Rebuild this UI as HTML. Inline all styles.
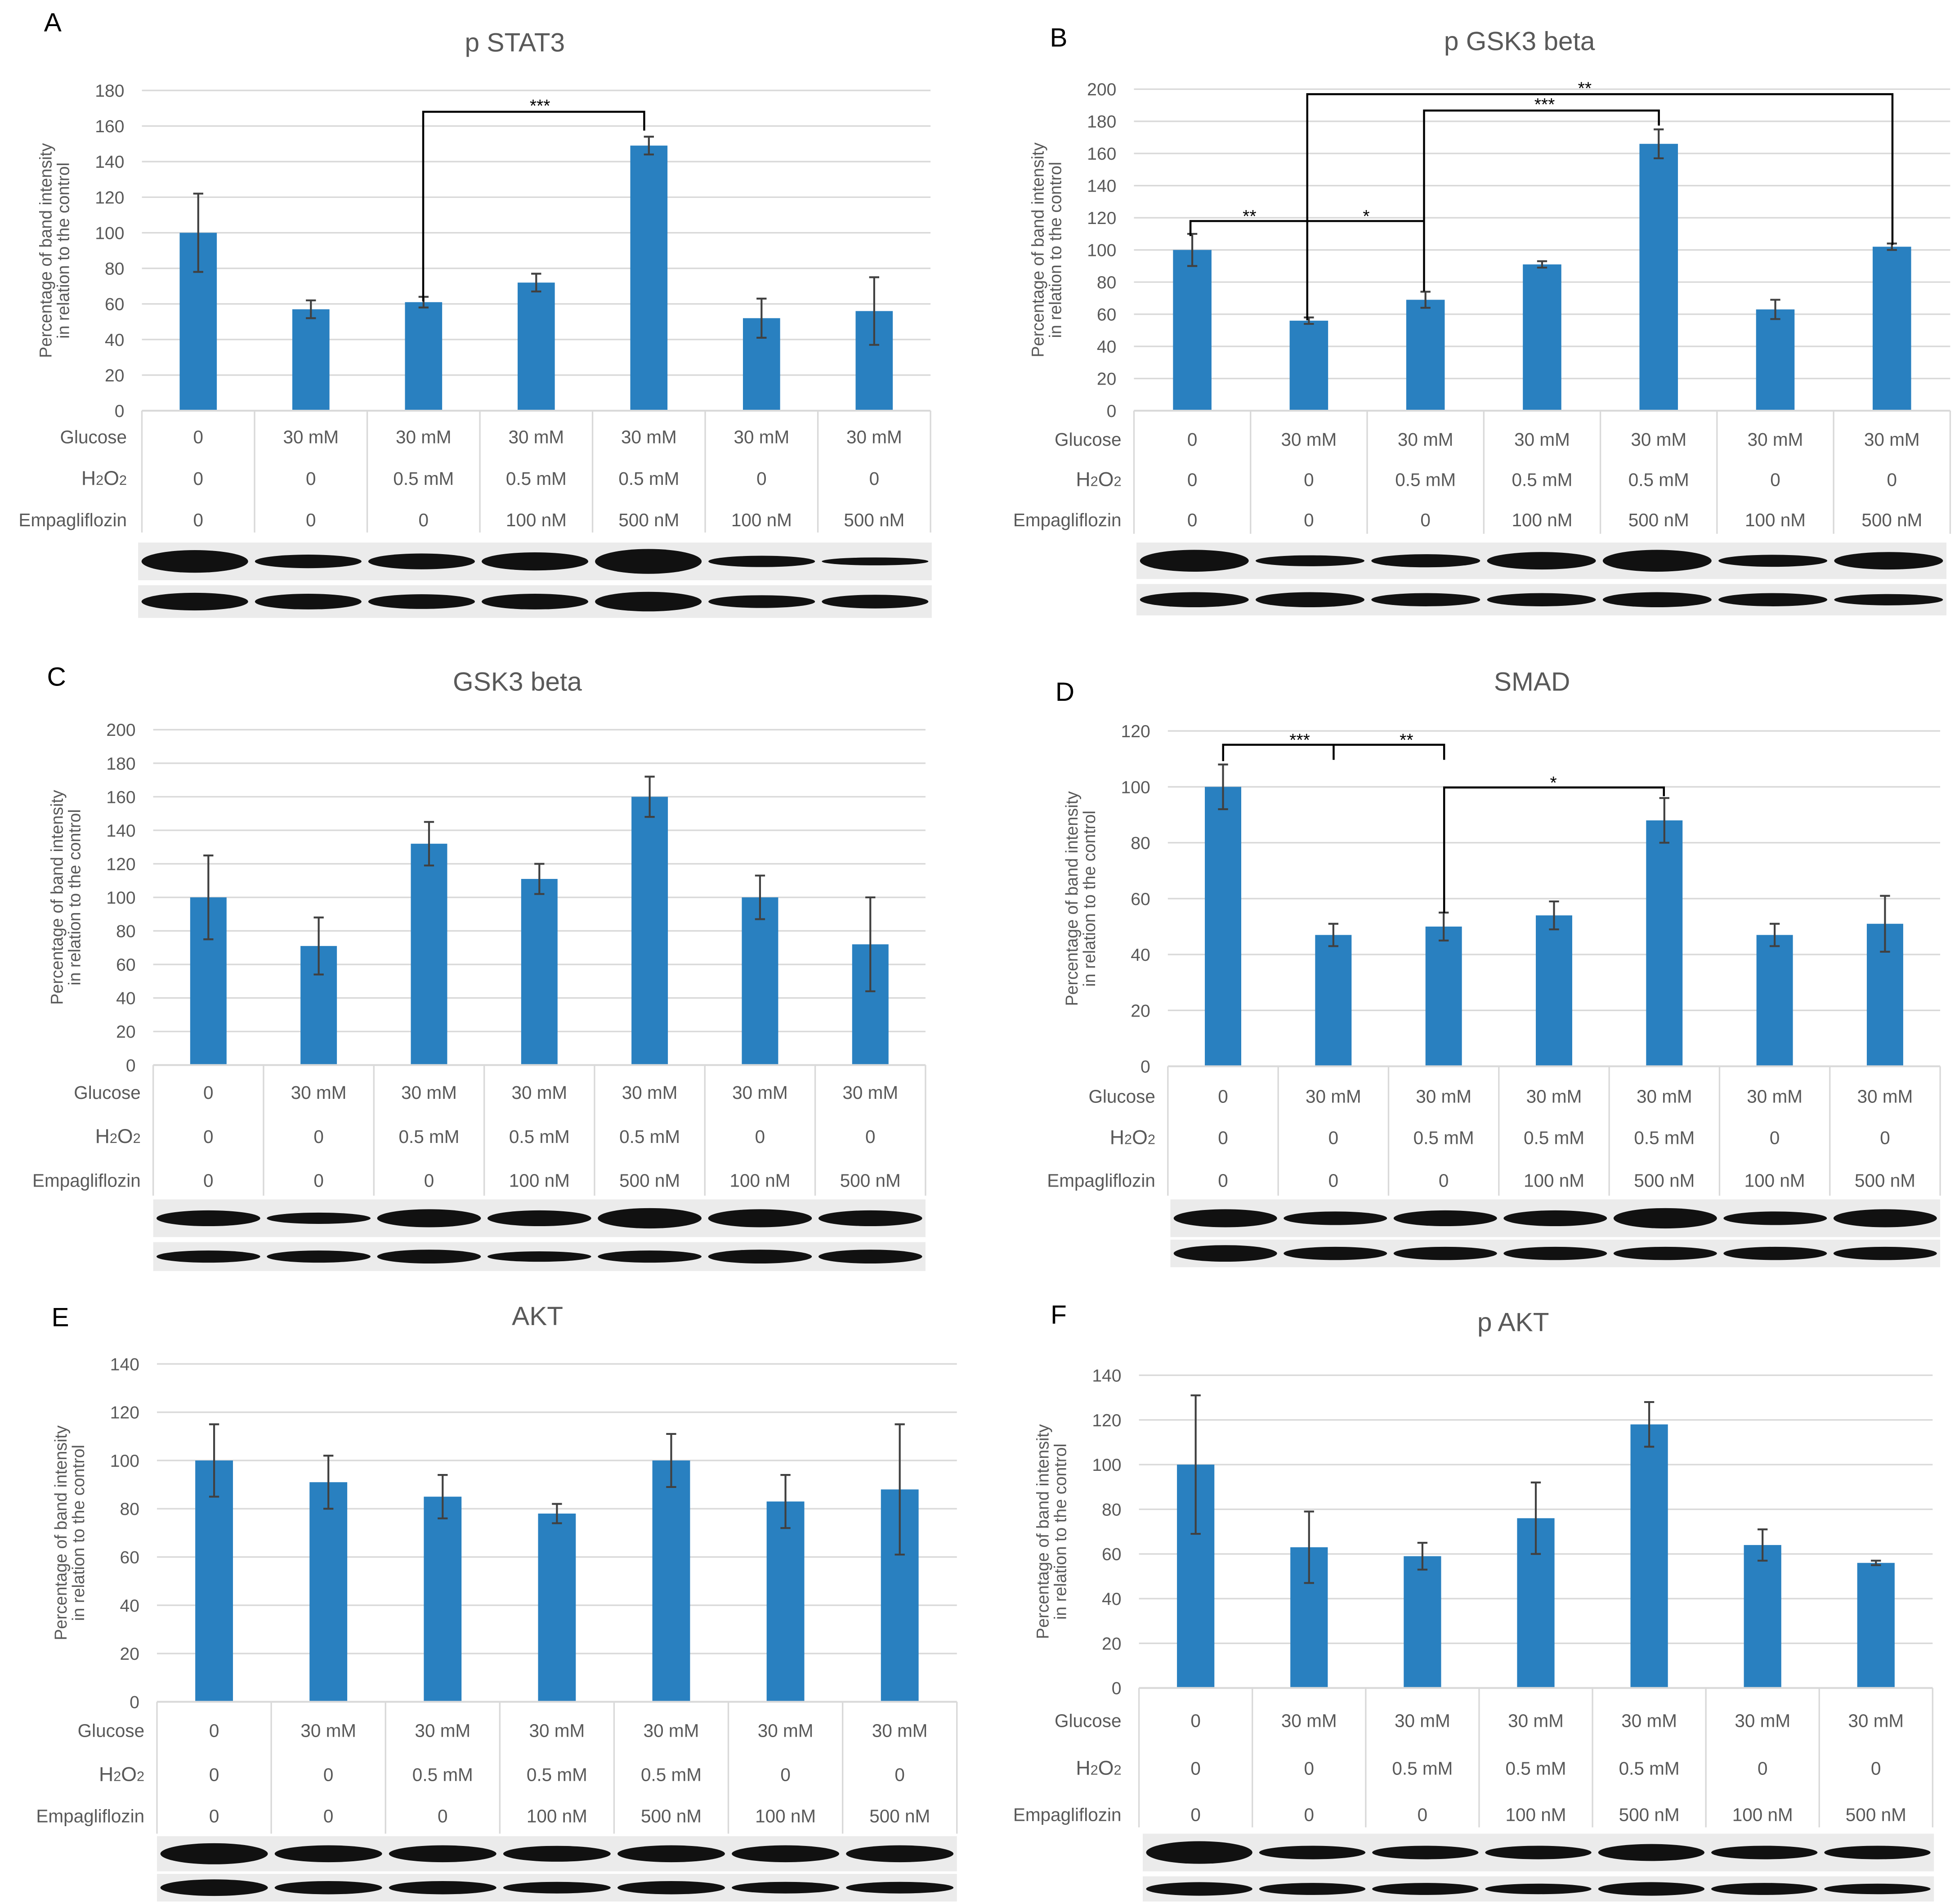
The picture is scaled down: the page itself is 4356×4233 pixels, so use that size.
<!DOCTYPE html>
<html><head><meta charset="utf-8">
<style>
html,body{margin:0;padding:0;background:#fff;}
svg{display:block;}
text{font-family:"Liberation Sans",sans-serif;}
</style></head>
<body>
<svg id="fig" xmlns="http://www.w3.org/2000/svg" width="4356" height="4233" viewBox="0 0 1560 1516" preserveAspectRatio="none"></svg>
<script>
// ---- data ----
const categories = ["ctrl","glu","glu-h2o2","glu-h2o2-e100","glu-h2o2-e500","glu-e100","glu-e500"];
const glucoseLabels = ["0","30 mM","30 mM","30 mM","30 mM","30 mM","30 mM"];
const h2o2Labels = ["0","0","0.5 mM","0.5 mM","0.5 mM","0","0"];
const empaLabels = ["0","0","0","100 nM","500 nM","100 nM","500 nM"];

const valuesA = [100,57,61,72,149,52,56];
const errorsA = [22,5,3,5,5,11,19];
const valuesB = [100,56,69,91,166,63,102];
const errorsB = [10,2,5,2,9,6,2];
const valuesC = [100,71,132,111,160,100,72];
const errorsC = [25,17,13,9,12,13,28];
const valuesD = [100,47,50,54,88,47,51];
const errorsD = [8,4,5,5,8,4,10];
const valuesE = [100,91,85,78,100,83,88];
const errorsE = [15,11,9,4,11,11,27];
const valuesF = [100,63,59,76,118,64,56];
const errorsF = [31,16,6,16,10,7,1];

const ticksA = [0,20,40,60,80,100,120,140,160,180];
const ticksB = [0,20,40,60,80,100,120,140,160,180,200];
const ticksC = [0,20,40,60,80,100,120,140,160,180,200];
const ticksD = [0,20,40,60,80,100,120];
const ticksE = [0,20,40,60,80,100,120,140];
const ticksF = [0,20,40,60,80,100,120,140];

const bandA1=[1.0,0.6,0.7,0.8,1.1,0.5,0.35]; const bandA2=[0.9,0.8,0.75,0.8,1.0,0.65,0.7];
const bandB1=[1.0,0.5,0.6,0.8,1.0,0.55,0.8]; const bandB2=[0.8,0.8,0.7,0.7,0.8,0.7,0.6];
const bandC1=[0.7,0.5,0.8,0.7,0.9,0.8,0.7]; const bandC2=[0.7,0.7,0.8,0.6,0.7,0.8,0.8];
const bandD1=[0.8,0.6,0.7,0.7,0.9,0.6,0.8]; const bandD2=[1.0,0.8,0.8,0.8,0.8,0.8,0.8];
const bandE1=[1.0,0.8,0.8,0.75,0.8,0.8,0.8]; const bandE2=[1.0,0.8,0.8,0.7,0.8,0.7,0.7];
const bandF1=[1.0,0.6,0.6,0.6,0.75,0.6,0.6]; const bandF2=[0.9,0.8,0.8,0.7,0.9,0.8,0.7];

const svg = document.getElementById('fig');
const NS = "http://www.w3.org/2000/svg";
function mk(tag, attrs, parent){
  const e = document.createElementNS(NS, tag);
  for (const k in attrs) e.setAttribute(k, attrs[k]);
  (parent||svg).appendChild(e);
  return e;
}
function txt(str, x, y, size, fill, anchor, parent){
  const t = mk('text', {x:x, y:y, 'font-size':size, fill:fill, 'text-anchor':anchor||'middle'}, parent);
  t.textContent = str;
  return t;
}

function panel(cfg){
  const g = mk('g', {});
  
  
  const L = txt(cfg.id, cfg.letter[0], cfg.letter[1], 21, '#000', 'middle', g);
  
  
  const T = txt(cfg.title, cfg.titleX, cfg.titleY, 21, '#595959', 'middle', g);
  
  
  const x0 = cfg.left, x1 = cfg.right, y0 = cfg.y0, yT = cfg.yTop;
  const maxV = cfg.ticks[cfg.ticks.length-1];
  const yS = v => y0 - (v/maxV)*(y0-yT);
  const n = categories.length;
  const cw = (x1-x0)/n;
  const xC = i => x0 + cw*(i+0.5);
  cfg.ticks.forEach(t => {
    if (t>0) {
      const gl = mk('line', {x1:x0, x2:x1, y1:yS(t), y2:yS(t), stroke:'#d9d9d9', 'stroke-width':1.2}, g);
      
      
    }
    const tl = txt(String(t), x0-14, yS(t)+5, 14, '#595959', 'end', g);
    
    
  });
  const yt = mk('text', {transform:`translate(${x0-72},${(y0+yT)/2}) rotate(-90)`, 'font-size':13.5, fill:'#595959', 'text-anchor':'middle'}, g);
  
  
  const s1 = mk('tspan', {x:0, dy:0}, yt); s1.textContent = 'Percentage of band intensity';
  const s2 = mk('tspan', {x:0, dy:14}, yt); s2.textContent = 'in relation to the control';
  const bw = cw*0.33;
  cfg.values.forEach((v,i) => {
    const b = mk('rect', {x:xC(i)-bw/2, y:yS(v), width:bw, height:y0-yS(v), fill:'#2980c0'}, g);
    
    
    const e = cfg.errors[i];
    const eb = mk('path', {d:`M${xC(i)},${yS(v+e)}V${yS(v-e)}M${xC(i)-4},${yS(v+e)}h8M${xC(i)-4},${yS(v-e)}h8`, stroke:'#404040', 'stroke-width':1.5, fill:'none'}, g);
    
    
  });
  const tb = cfg.tableBottom;
  mk('line', {x1:x0, x2:x1, y1:y0, y2:y0, stroke:'#d9d9d9', 'stroke-width':1.5}, g);
  for (let i=0;i<=n;i++){
    mk('line', {x1:x0+cw*i, x2:x0+cw*i, y1:y0, y2:tb, stroke:'#d9d9d9', 'stroke-width':1.2}, g);
  }
  const rows = [["Glucose", glucoseLabels], ["H2O2", h2o2Labels], ["Empagliflozin", empaLabels]];
  rows.forEach((r,ri) => {
    const ry = cfg.rows[ri];
    let lab;
    if (r[0]==="H2O2") {
      lab = mk('text', {x:cfg.labelX, y:ry+5, 'font-size':16, fill:'#595959', 'text-anchor':'end'}, g);
      const a=mk('tspan',{},lab); a.textContent='H';
      const b=mk('tspan',{'font-size':11},lab); b.textContent='2';
      const c=mk('tspan',{},lab); c.textContent='O';
      const d=mk('tspan',{'font-size':11},lab); d.textContent='2';
    } else {
      lab = txt(r[0], cfg.labelX, ry+5, 14.5, '#595959', 'end', g);
    }
    
    
    r[1].forEach((s,i) => {
      const c = txt(s, xC(i), ry+5, 14.5, '#595959', 'middle', g);
      
      
    });
  });
  [[cfg.blot1, cfg.band1],[cfg.blot2, cfg.band2]].forEach((bb,bi) => {
    const [by, bh] = bb[0];
    const bl = mk('rect', {x:cfg.blotX[0], y:by, width:cfg.blotX[1]-cfg.blotX[0], height:bh, fill:'#ebebeb'}, g);
    
    
    const bcw = (cfg.blotX[1]-cfg.blotX[0])/n;
    bb[1].forEach((k,i) => {
      const cx = cfg.blotX[0]+bcw*(i+0.5);
      mk('ellipse', {cx:cx, cy:by+bh/2, rx:bcw*0.47, ry:Math.max(2.5, bh*0.3*k), fill:'#111'}, g);
    });
  });
  (cfg.brackets||[]).forEach(p => {
    const br = mk('path', {d:p, stroke:'#000', 'stroke-width':1.6, fill:'none'}, g);
    
    
  });
  (cfg.stars||[]).forEach(s => {
    const st = txt(s[0], s[1], s[2], 14, '#000', 'middle', g);
    
    
  });
}

panel({id:'A', title:'p STAT3', letter:[42,25], titleX:410, titleY:41, left:113, right:741, y0:327, yTop:72,
  ticks:ticksA, values:valuesA, errors:errorsA, tableBottom:424, rows:[348,381,414], labelX:101,
  blotX:[110,742], blot1:[432,30], blot2:[466,26], band1:bandA1, band2:bandA2,
  brackets:['M337,240V89H513V104'], stars:[['***',430,89]]});
panel({id:'B', title:'p GSK3 beta', letter:[843,37], titleX:1210,titleY:40, left:903, right:1553, y0:327, yTop:71,
  ticks:ticksB, values:valuesB, errors:errorsB, tableBottom:425, rows:[350,382,414], labelX:893,
  blotX:[905,1550], blot1:[432,29], blot2:[465,25], band1:bandB1, band2:bandB2,
  brackets:['M948,188V176H1134','M1041,255V75H1507V195','M1134,232V88H1321V100'],
  stars:[['**',995,177],['*',1088,177],['***',1230,88],['**',1262,75]]});
panel({id:'C', title:'GSK3 beta', letter:[45,546], titleX:412,titleY:550, left:122, right:737, y0:848, yTop:581,
  ticks:ticksC, values:valuesC, errors:errorsC, tableBottom:952, rows:[870,905,940], labelX:112,
  blotX:[122,737], blot1:[955,30], blot2:[989,23], band1:bandC1, band2:bandC2});
panel({id:'D', title:'SMAD', letter:[848,558], titleX:1220,titleY:550, left:930, right:1545, y0:849, yTop:582,
  ticks:ticksD, values:valuesD, errors:errorsD, tableBottom:952, rows:[873,906,940], labelX:920,
  blotX:[932,1545], blot1:[955,30], blot2:[987,22], band1:bandD1, band2:bandD2,
  brackets:['M974,606V593H1150V605','M1062,593V605','M1150,727V627H1325V634'],
  stars:[['***',1035,594],['**',1120,594],['*',1237,628]]});
panel({id:'E', title:'AKT', letter:[48,1056], titleX:428,titleY:1055, left:125, right:762, y0:1355, yTop:1086,
  ticks:ticksE, values:valuesE, errors:errorsE, tableBottom:1460, rows:[1378,1413,1446], labelX:115,
  blotX:[125,762], blot1:[1462,28], blot2:[1492,22], band1:bandE1, band2:bandE2});
panel({id:'F', title:'p AKT', letter:[843,1054], titleX:1205,titleY:1060, left:907, right:1539, y0:1344, yTop:1095,
  ticks:ticksF, values:valuesF, errors:errorsF, tableBottom:1455, rows:[1370,1408,1445], labelX:893,
  blotX:[910,1540], blot1:[1460,30], blot2:[1494,20], band1:bandF1, band2:bandF2});
</script>
</body></html>
